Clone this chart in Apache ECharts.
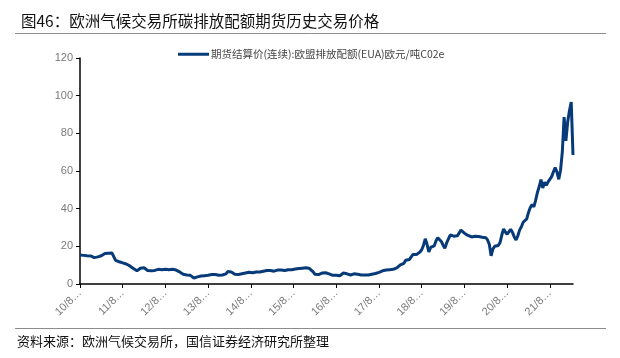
<!DOCTYPE html>
<html>
<head>
<meta charset="utf-8">
<script src="https://cdn.jsdelivr.net/npm/echarts@6/dist/echarts.min.js"></script>
<style>
html,body{margin:0;padding:0;background:#fff;}
#chart{width:620px;height:358px;}
</style>
</head>
<body>
<div id="chart"></div>
<script>
// Half-monthly settlement prices (EUR/tCO2e), starting Aug 2010
var startYear = 2010, startMonth = 8;
var prices = [
 15.4,15.0, 15.2,14.8, 15.0,14.6, 14.9,14.3, 14.0,14.2, 14.4,14.6, 15.0,15.4, 16.2,16.6, 16.3,16.8, 16.4,16.0, // 2010/8 - 2011/5
 12.5,13.2, 11.8,12.6, 11.2,10.8, 10.6,10.0, 9.6,8.8, 8.2,7.6, 7.0,7.6, 8.4,9.2, 8.6,8.0, 7.2,6.8,            // 2011/6 - 2012/3
 7.0,7.6, 7.2,6.8, 7.8,7.4, 7.6,7.9, 7.8,7.4, 7.6,8.2, 7.8,8.4, 7.4,6.8, 6.4,6.0, 5.2,4.4,                    // 2012/4 - 2013/1
 4.8,4.2, 4.6,4.0, 3.2,3.6, 3.8,3.5, 4.2,4.0, 4.4,4.2, 4.6,4.4, 5.0,5.4, 5.0,4.8, 4.6,4.8,                    // 2013/2 - 2013/11
 4.8,5.0, 5.4,6.6, 7.2,6.4, 5.6,5.2, 5.4,5.0, 5.2,5.4, 5.6,5.8, 6.0,6.2, 6.2,6.0, 6.0,6.4,                    // 2013/12 - 2014/9
 6.2,6.4, 6.6,6.8, 6.8,7.2, 7.0,7.2, 7.0,6.8, 7.0,7.4, 7.2,7.4, 7.4,7.2, 7.4,7.6, 7.8,7.6,                    // 2014/10 - 2015/7
 7.8,8.0, 8.0,8.2, 8.2,8.4, 8.4,8.6, 8.4,8.2, 7.6,6.4, 5.2,4.8, 5.0,5.2, 5.8,6.2, 6.0,5.8,                    // 2015/8 - 2016/5
 5.4,4.8, 4.6,4.4, 4.6,4.2, 4.4,5.2, 5.8,6.2, 5.4,5.0, 4.8,5.2, 5.4,5.0, 5.2,5.0, 4.8,5.0,                    // 2016/6 - 2017/3
 4.8,4.6, 4.8,5.0, 5.2,5.4, 5.6,5.8, 6.2,6.6, 7.0,7.4, 7.4,7.6, 7.6,7.8, 7.8,8.2, 8.6,9.6,                    // 2017/4 - 2018/1
 10.2,9.8, 11.0,12.6, 13.2,13.0, 14.0,15.6, 15.2,15.6, 16.4,17.0, 18.2,20.6, 24.0,21.0, 17.0,19.4, 19.2,20.2, // 2018/2 - 2018/11
 22.8,24.6, 24.0,22.6, 20.6,19.0, 21.8,22.4, 26.0,27.0, 25.4,25.0, 25.6,27.0, 28.6,29.2, 27.0,26.0, 25.8,26.6, // 2018/12 - 2019/9
 25.0,24.6, 25.4,24.4, 25.2,24.4, 24.8,24.2, 24.6,23.4, 21.0,15.0, 18.6,20.0, 19.2,20.4, 22.0,26.0, 29.2,27.6, // 2019/10 - 2020/7
 26.4,27.8, 29.0,27.4, 25.0,23.4, 25.6,28.6, 30.4,32.8, 33.8,34.6, 38.0,40.6, 42.2,41.0, 44.4,48.6, 51.6,55.4, // 2020/8 - 2021/5
 51.0,54.0, 52.4,54.2, 55.2,57.0, 59.6,61.8, 59.4,55.6, 60.4,70.2, 88.6,76.0, 86.0,92.0, 96.6,68.5           // 2021/6 - 2022/2
];
var tickYears = ['10','11','12','13','14','15','16','17','18','19','20','21'];
var seriesName = '期货结算价(连续):欧盟排放配额(EUA)欧元/吨C02e';

var categories = [];
for (var i = 0; i < prices.length; i++) {
  var mIdx = Math.floor(i / 2);
  var y = startYear + Math.floor((startMonth - 1 + mIdx) / 12);
  var mo = ((startMonth - 1 + mIdx) % 12) + 1;
  categories.push(y + '/' + mo + '/' + (i % 2 === 0 ? 1 : 16));
}

var chart = echarts.init(document.getElementById('chart'), null, {renderer: 'canvas'});
var latin = '"Liberation Sans", Arial, "Noto Sans CJK SC", sans-serif';
var cjk = '"Noto Sans CJK SC", "Liberation Sans", sans-serif';
chart.setOption({
  animation: false,
  backgroundColor: '#fff',
  title: {
    text: '图46：欧洲气候交易所碳排放配额期货历史交易价格',
    left: 16, top: 8,
    textStyle: {fontFamily: cjk, fontSize: 15.5, fontWeight: 'normal', color: '#111'}
  },
  graphic: [
    {type: 'line', shape: {x1: 15, y1: 33.5, x2: 606, y2: 33.5}, style: {stroke: '#8c8c8c', lineWidth: 1}},
    {type: 'line', shape: {x1: 15, y1: 328.5, x2: 606, y2: 328.5}, style: {stroke: '#8c8c8c', lineWidth: 1}},
    {type: 'text', left: 17, top: 335, style: {text: '资料来源：欧洲气候交易所，国信证券经济研究所整理', font: '13px "Noto Sans CJK SC", sans-serif', fill: '#111'}}
  ],
  legend: {
    left: 173, top: 44,
    itemWidth: 31, itemHeight: 3, itemGap: 2,
    icon: 'rect',
    textStyle: {fontFamily: cjk, fontSize: 10.5, color: '#444', padding: [0,0,0,-3]},
    data: [seriesName]
  },
  grid: {left: 80, right: 47, top: 58, bottom: 74, containLabel: false},
  xAxis: {
    type: 'category',
    data: categories,
    boundaryGap: false,
    axisLine: {show: true, lineStyle: {color: '#000', width: 1.5}},
    axisTick: {show: true, length: 4, interval: function(idx){ return idx % 24 === 0; }, lineStyle: {color: '#000'}},
    axisLabel: {
      interval: function(idx){ return idx % 24 === 0; },
      rotate: 45, margin: 7,
      fontFamily: latin, fontSize: 11, color: '#7a7a7a',
      formatter: function(v, idx){ return tickYears[Math.floor(idx / 24)] + '/8…'; }
    },
    splitLine: {show: false}
  },
  yAxis: {
    type: 'value', min: 0, max: 120, interval: 20,
    axisLine: {show: true, lineStyle: {color: '#000', width: 1.5}},
    axisTick: {show: true, length: 4, lineStyle: {color: '#000'}},
    axisLabel: {fontFamily: latin, fontSize: 11, color: '#7a7a7a', margin: 7},
    splitLine: {show: false}
  },
  series: [{
    name: seriesName,
    type: 'line',
    data: prices,
    symbol: 'none',
    lineStyle: {color: '#073a78', width: 3},
    itemStyle: {color: '#073a78'}
  }]
});
</script>
</body>
</html>
